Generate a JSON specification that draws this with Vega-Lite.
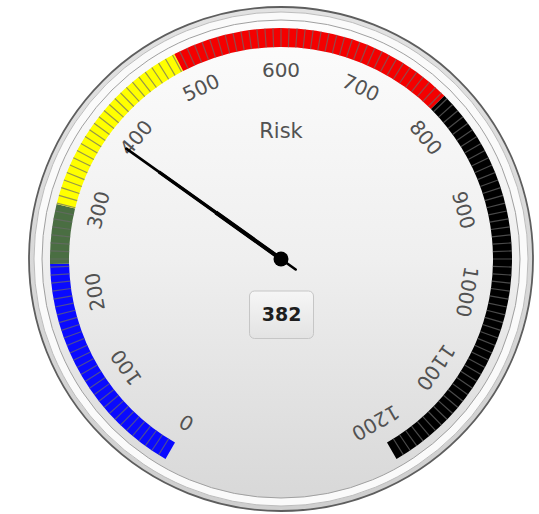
{
  "$schema": "https://vega.github.io/schema/vega-lite/v6.json",
  "width": 516,
  "height": 500,
  "padding": {"left": 23, "top": 9, "right": 0, "bottom": 5},
  "autosize": {"type": "none"},
  "background": "white",
  "config": {"view": {"stroke": null}},
  "datasets": {
    "bands": [
      {"zone": "blue", "a": 0, "b": 235},
      {"zone": "green", "a": 235, "b": 295},
      {"zone": "yellow", "a": 295, "b": 490},
      {"zone": "red", "a": 490, "b": 780},
      {"zone": "black", "a": 780, "b": 1200}
    ],
    "ticks": [
      {"t": [8,16,24,32,40,48,56,64,72,80,88,96,104,112,120,128,136,144,152,160,168,176,184,192,200,208,216,224,232,240,248,256,264,272,280,288,296,304,312,320,328,336,344,352,360,368,376,384,392,400,408,416,424,432,440,448,456,464,472,480,488,496,504,512,520,528,536,544,552,560,568,576,584,592,600,608,616,624,632,640,648,656,664,672,680,688,696,704,712,720,728,736,744,752,760,768,776,784,792,800,808,816,824,832,840,848,856,864,872,880,888,896,904,912,920,928,936,944,952,960,968,976,984,992,1000,1008,1016,1024,1032,1040,1048,1056,1064,1072,1080,1088,1096,1104,1112,1120,1128,1136,1144,1152,1160,1168,1176,1184,1192]}
    ],
    "labels": [
      {"v": 0}, {"v": 100}, {"v": 200}, {"v": 300}, {"v": 400}, {"v": 500}, {"v": 600},
      {"v": 700}, {"v": 800}, {"v": 900}, {"v": 1000}, {"v": 1100}, {"v": 1200}
    ],
    "reading": [{"name": "Risk", "v": 382, "titlepos": 600}],
    "box": [{"x1": -0.122, "x2": 0.126, "y1": -0.128, "y2": -0.318, "xm": 0.002, "ym": -0.224, "v": 382}]
  },
  "layer": [
    {
      "data": {"values": [{}]},
      "mark": {"type": "arc", "radius": 252, "stroke": "#5e5e5e", "strokeWidth": 1.8,
        "fill": {"gradient": "linear", "x1": 0, "y1": 0, "x2": 0, "y2": 1,
          "stops": [{"offset": 0, "color": "#e2e2e2"}, {"offset": 1, "color": "#cfcfcf"}]}}
    },
    {
      "data": {"values": [{}]},
      "mark": {"type": "arc", "radius": 247, "fill": "#fafafa", "stroke": "#bdbdbd", "strokeWidth": 1}
    },
    {
      "data": {"values": [{}]},
      "mark": {
        "type": "arc", "radius": 239, "stroke": "#a0a0a0", "strokeWidth": 1,
        "fill": {"gradient": "linear", "x1": 0, "y1": 0, "x2": 0, "y2": 1,
          "stops": [{"offset": 0, "color": "#fdfdfd"}, {"offset": 0.5, "color": "#efefef"}, {"offset": 1, "color": "#d8d8d8"}]}
      }
    },
    {
      "data": {"name": "bands"},
      "mark": {"type": "arc", "radius": 231, "radius2": 212},
      "encoding": {
        "theta": {"field": "a", "type": "quantitative", "stack": null, "scale": {"domain": [0, 1200], "range": [-2.618, 2.618], "zero": false, "nice": false}},
        "theta2": {"field": "b"},
        "color": {"field": "zone", "type": "nominal", "legend": null,
          "scale": {"domain": ["blue", "green", "yellow", "red", "black"], "range": ["#0a0aff", "#4a6e42", "#ffff00", "#f40000", "#000000"]}}
      }
    },
    {
      "data": {"name": "ticks"},
      "transform": [{"flatten": ["t"]}],
      "mark": {"type": "arc", "radius": 231, "radius2": 212, "stroke": "#6a6a6a", "strokeOpacity": 0.7, "strokeWidth": 1.2, "fillOpacity": 0},
      "encoding": {
        "theta": {"field": "t", "type": "quantitative", "stack": null, "scale": {"domain": [0, 1200], "range": [-2.618, 2.618], "zero": false, "nice": false}},
        "theta2": {"field": "t"}
      }
    },
    {
      "data": {"name": "labels"},
      "mark": {"type": "text", "radius": 188, "align": "center", "baseline": "middle", "font": "DejaVu Sans", "fontSize": 20, "fill": "#525252"},
      "encoding": {
        "theta": {"field": "v", "type": "quantitative", "stack": null, "scale": {"domain": [0, 1200], "range": [-2.618, 2.618], "zero": false, "nice": false}},
        "angle": {"field": "v", "type": "quantitative", "scale": {"domain": [0, 1200], "range": [-150, 150], "zero": false, "nice": false}},
        "text": {"field": "v", "type": "quantitative", "format": "d"}
      }
    },
    {
      "data": {"name": "reading"},
      "mark": {"type": "text", "radius": 127, "align": "center", "baseline": "middle", "font": "DejaVu Sans", "fontSize": 21, "fill": "#525252"},
      "encoding": {
        "theta": {"field": "titlepos", "type": "quantitative", "stack": null, "scale": {"domain": [0, 1200], "range": [-2.618, 2.618], "zero": false, "nice": false}},
        "text": {"field": "name", "type": "nominal"}
      }
    },
    {
      "data": {"name": "box"},
      "mark": {"type": "rect", "cornerRadius": 5, "stroke": "#c6c6c6", "strokeWidth": 1,
        "fill": {"gradient": "linear", "x1": 0, "y1": 0, "x2": 0, "y2": 1,
          "stops": [{"offset": 0, "color": "#f6f6f6"}, {"offset": 1, "color": "#e3e3e3"}]}},
      "encoding": {
        "x": {"field": "x1", "type": "quantitative", "axis": null, "scale": {"domain": [-1, 1], "nice": false, "zero": false}},
        "x2": {"field": "x2"},
        "y": {"field": "y1", "type": "quantitative", "axis": null, "scale": {"domain": [-1, 1], "nice": false, "zero": false}},
        "y2": {"field": "y2"}
      }
    },
    {
      "data": {"name": "box"},
      "mark": {"type": "text", "align": "center", "baseline": "middle", "font": "DejaVu Sans", "fontSize": 19, "fontWeight": "bold", "fill": "#1e1e1e"},
      "encoding": {
        "x": {"field": "xm", "type": "quantitative", "axis": null, "scale": {"domain": [-1, 1], "nice": false, "zero": false}},
        "y": {"field": "ym", "type": "quantitative", "axis": null, "scale": {"domain": [-1, 1], "nice": false, "zero": false}},
        "text": {"field": "v", "type": "quantitative", "format": "d"}
      }
    },
    {
      "data": {"name": "reading"},
      "mark": {"type": "arc", "radius": 190, "radius2": -18, "stroke": "#000000", "strokeWidth": 2.6, "strokeCap": "round", "strokeJoin": "round", "fillOpacity": 0},
      "encoding": {
        "theta": {"field": "v", "type": "quantitative", "stack": null, "scale": {"domain": [0, 1200], "range": [-2.618, 2.618], "zero": false, "nice": false}},
        "theta2": {"field": "v"}
      }
    },
    {
      "data": {"name": "reading"},
      "mark": {"type": "arc", "radius": 150, "radius2": 0, "stroke": "#000000", "strokeWidth": 3.4, "strokeCap": "round", "fillOpacity": 0},
      "encoding": {
        "theta": {"field": "v", "type": "quantitative", "stack": null, "scale": {"domain": [0, 1200], "range": [-2.618, 2.618], "zero": false, "nice": false}},
        "theta2": {"field": "v"}
      }
    },
    {
      "data": {"name": "reading"},
      "mark": {"type": "arc", "radius": 80, "radius2": 0, "stroke": "#000000", "strokeWidth": 4.2, "strokeCap": "round", "fillOpacity": 0},
      "encoding": {
        "theta": {"field": "v", "type": "quantitative", "stack": null, "scale": {"domain": [0, 1200], "range": [-2.618, 2.618], "zero": false, "nice": false}},
        "theta2": {"field": "v"}
      }
    },
    {
      "data": {"values": [{}]},
      "mark": {"type": "arc", "radius": 7.5, "fill": "#000000"}
    }
  ]
}
